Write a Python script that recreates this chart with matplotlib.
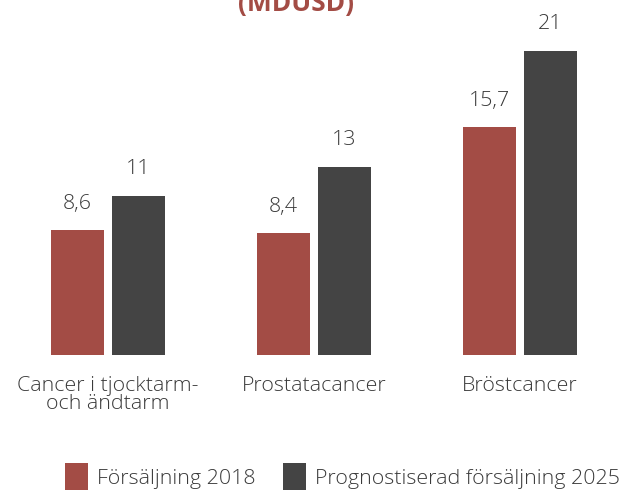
import matplotlib
matplotlib.use("Agg")
import matplotlib.pyplot as plt
import numpy as np

categories = ["Cancer i tjocktarm-\noch ändtarm", "Prostatacancer", "Bröstcancer"]
sales_2018 = [8.6, 8.4, 15.7]
forecast_2025 = [11, 13, 21]
value_labels_2018 = ["8,6", "8,4", "15,7"]
value_labels_2025 = ["11", "13", "21"]
series_names = ["Försäljning 2018", "Prognostiserad försäljning 2025"]

RED = "#A34C45"
DARK = "#444444"
TEXT = "#3a3a3a"
FS = 15.4

plt.rcParams["font.family"] = ["Open Sans", "DejaVu Sans"]

W, H = 634, 497
fig = plt.figure(figsize=(W / 100, H / 100), dpi=100)
# axes: full width, from the baseline (y=355 px) to the top
ax = fig.add_axes([0, 1 - 355 / H, 1, 355 / H])

spacing = 206.0
x = np.arange(len(categories))
width = 53 / spacing
offset = 30.5 / spacing

b1 = ax.bar(x - offset, sales_2018, width, color=RED, label=series_names[0])
b2 = ax.bar(x + offset, forecast_2025, width, color=DARK, label=series_names[1])

ax.set_xlim(-108 / spacing, (W - 108) / spacing)
ax.set_ylim(0, 355 / 14.5)
ax.axis("off")

for bars, labels in ((b1, value_labels_2018), (b2, value_labels_2025)):
    for rect, lab in zip(bars, labels):
        ax.annotate(lab, (rect.get_x() + rect.get_width() / 2, rect.get_height()),
                    xytext=(0, 12), textcoords="offset points",
                    ha="center", va="bottom", fontsize=FS, color=TEXT,
                    fontweight="light")

for xi, cat in zip(x, categories):
    ax.annotate(cat, (xi, 0), xytext=(0, -15), textcoords="offset points",
                ha="center", va="top", fontsize=FS, color=TEXT,
                fontweight="light", multialignment="center", linespacing=0.9)

fig.text(296 / W, 1 - 3 / H, "(MDUSD)", ha="center", va="center",
         fontsize=19, fontweight="bold", color=RED)

leg = fig.legend(handles=[b1, b2], loc="upper left",
                 bbox_to_anchor=(65 / W, 1 - 463 / H), ncol=2, frameon=False,
                 fontsize=FS, handlelength=1.08, handleheight=1.6,
                 handletextpad=0.42, columnspacing=1.3, borderpad=0,
                 borderaxespad=0)
for t in leg.get_texts():
    t.set_color(TEXT)
    t.set_fontweight("light")

fig.savefig("out.png", dpi=100)
